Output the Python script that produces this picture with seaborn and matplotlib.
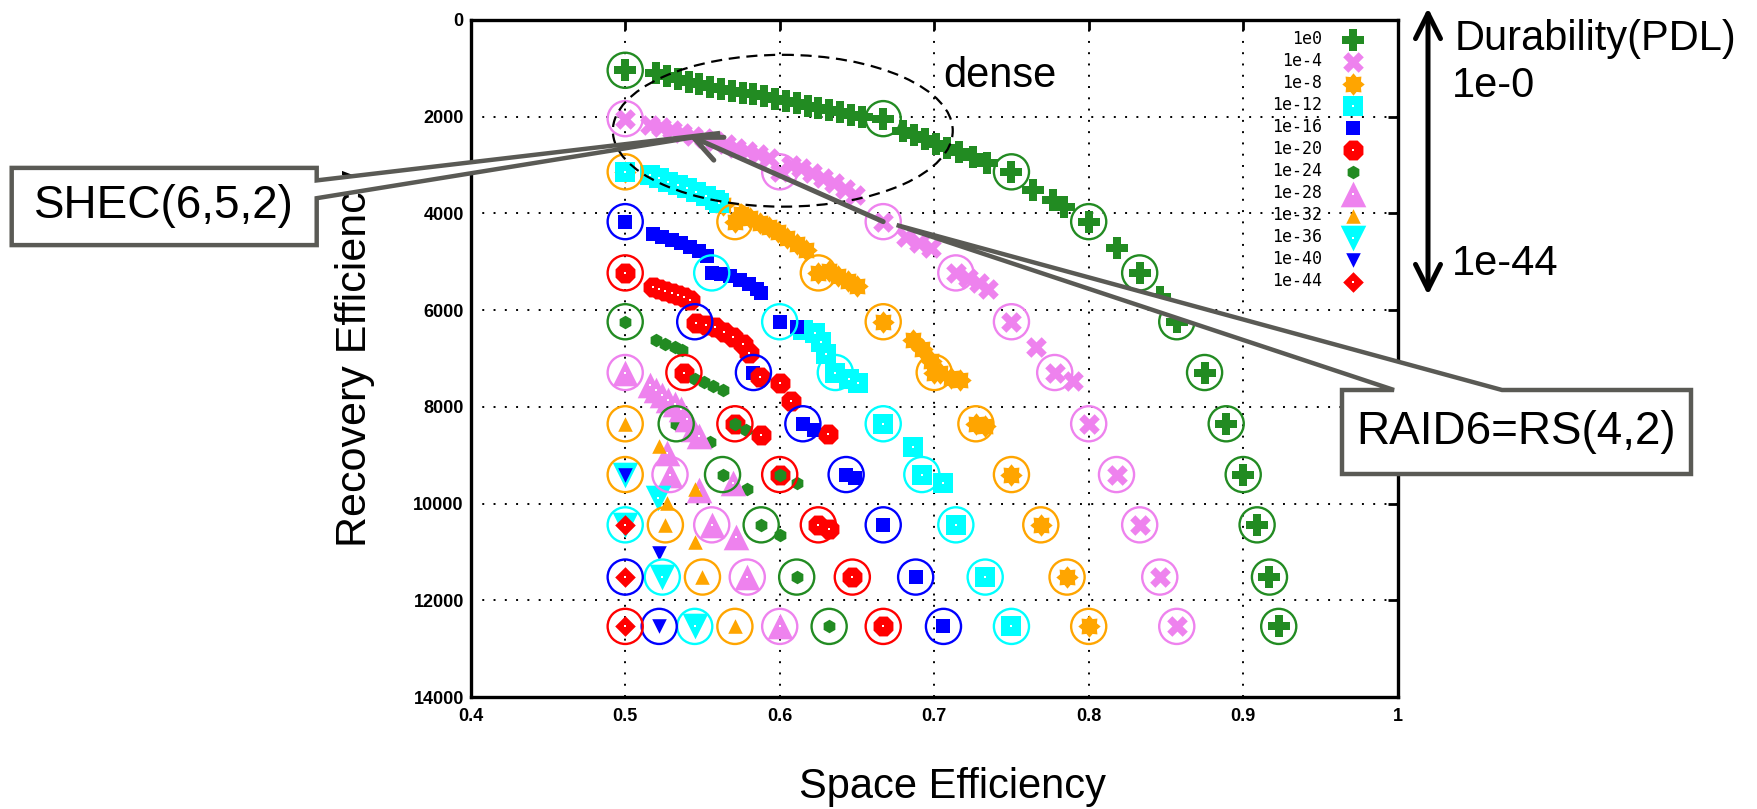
import numpy as np
import pandas as pd
import seaborn as sns
import matplotlib.pyplot as plt
from matplotlib.patches import Ellipse, Polygon, FancyArrowPatch
from matplotlib.transforms import IdentityTransform

# durability classes (legend order)
labels = ['1e0', '1e-4', '1e-8', '1e-12', '1e-16', '1e-20',
          '1e-24', '1e-28', '1e-32', '1e-36', '1e-40', '1e-44']

# SHEC points per class (x = space efficiency, y = recovery efficiency)
x_1e0 = [0.500, 0.520, 0.527, 0.534, 0.541, 0.548, 0.555, 0.562, 0.569, 0.576, 0.583, 0.590, 0.597, 0.604,
         0.611, 0.618, 0.625, 0.632, 0.639, 0.646, 0.653, 0.667, 0.680, 0.687, 0.694, 0.701, 0.708, 0.716,
         0.725, 0.734, 0.750, 0.764, 0.777, 0.784, 0.800, 0.818, 0.833, 0.846, 0.857, 0.875, 0.889, 0.900,
         0.909, 0.917, 0.923]
y_1e0 = [1040, 1090, 1160, 1220, 1280, 1330, 1380, 1420, 1460, 1500, 1540, 1580, 1625, 1670,
         1720, 1770, 1820, 1870, 1910, 1960, 2010, 2040, 2300, 2380, 2460, 2560, 2640, 2720,
         2830, 2960, 3140, 3520, 3720, 3860, 4170, 4720, 5230, 5720, 6240, 7290, 8350, 9400,
         10440, 11520, 12540]
x_1e4 = [0.500, 0.516, 0.523, 0.530, 0.537, 0.544, 0.551, 0.558, 0.565, 0.572, 0.579, 0.586, 0.593, 0.600,
         0.607, 0.614, 0.621, 0.628, 0.635, 0.642, 0.649, 0.667, 0.682, 0.690, 0.698, 0.714, 0.722, 0.729,
         0.735, 0.750, 0.766, 0.778, 0.790, 0.800, 0.818, 0.833, 0.846, 0.857]
y_1e4 = [2040, 2170, 2220, 2270, 2330, 2390, 2450, 2510, 2570, 2640, 2710, 2780, 2860, 3140,
         3000, 3070, 3160, 3270, 3380, 3500, 3610, 4170, 4480, 4620, 4720, 5230, 5330, 5440,
         5560, 6240, 6760, 7290, 7470, 8350, 9400, 10440, 11520, 12540]
x_1e8 = [0.500, 0.557, 0.563, 0.571, 0.575, 0.581, 0.587, 0.593, 0.599, 0.605, 0.611, 0.617, 0.625, 0.632,
         0.638, 0.644, 0.650, 0.667, 0.686, 0.692, 0.698, 0.700, 0.704, 0.711, 0.717, 0.727, 0.733, 0.750,
         0.769, 0.786, 0.800]
y_1e8 = [3140, 3720, 3820, 4170, 4010, 4100, 4200, 4290, 4380, 4500, 4640, 4760, 5230, 5200,
         5300, 5400, 5500, 6240, 6620, 6800, 7050, 7290, 7300, 7400, 7440, 8350, 8400, 9400,
         10440, 11520, 12540]
x_1e12 = [0.500, 0.516, 0.522, 0.528, 0.534, 0.540, 0.546, 0.552, 0.558, 0.561, 0.615, 0.623, 0.627, 0.630,
          0.636, 0.645, 0.651, 0.667, 0.686, 0.692, 0.706, 0.714, 0.733, 0.750]
y_1e12 = [3140, 3200, 3270, 3340, 3410, 3480, 3560, 3640, 3720, 3790, 6420, 6480, 6650, 6900,
          7290, 7420, 7500, 8350, 8820, 9400, 9580, 10440, 11520, 12540]
x_1e16 = [0.500, 0.518, 0.524, 0.530, 0.536, 0.542, 0.548, 0.553, 0.556, 0.562, 0.568, 0.574, 0.580, 0.585,
          0.588, 0.600, 0.611, 0.583, 0.615, 0.622, 0.643, 0.649, 0.667, 0.688, 0.706]
y_1e16 = [4170, 4420, 4480, 4540, 4610, 4690, 4780, 4890, 5230, 5250, 5300, 5380, 5460, 5560,
          5650, 6240, 6340, 7290, 8350, 8470, 9400, 9480, 10440, 11520, 12540]
x_1e20 = [0.500, 0.518, 0.522, 0.526, 0.530, 0.534, 0.538, 0.542, 0.546, 0.552, 0.558, 0.564, 0.570, 0.576,
          0.580, 0.538, 0.587, 0.600, 0.607, 0.571, 0.588, 0.600, 0.631, 0.625, 0.632, 0.647, 0.667]
y_1e20 = [5230, 5520, 5560, 5600, 5640, 5680, 5730, 5790, 6270, 6300, 6350, 6460, 6560, 6700,
          6880, 7290, 7380, 7500, 7880, 8350, 8580, 9400, 8560, 10440, 10530, 11520, 12540]
x_1e24 = [0.500, 0.520, 0.526, 0.532, 0.537, 0.545, 0.551, 0.557, 0.563, 0.533, 0.571, 0.578, 0.555, 0.563,
          0.579, 0.600, 0.611, 0.588, 0.600, 0.611, 0.632]
y_1e24 = [6240, 6620, 6690, 6760, 6830, 7420, 7490, 7570, 7650, 8350, 8350, 8470, 8720, 9400,
          9690, 9400, 9580, 10440, 10650, 11520, 12540]
x_1e28 = [0.500, 0.516, 0.520, 0.524, 0.528, 0.532, 0.536, 0.540, 0.544, 0.548, 0.527, 0.529, 0.548, 0.570,
          0.556, 0.572, 0.579, 0.600]
y_1e28 = [7290, 7550, 7650, 7750, 7850, 7950, 8050, 8250, 8450, 8600, 8960, 9400, 9720, 9580,
          10440, 10690, 11520, 12540]
x_1e32 = [0.500, 0.522, 0.545, 0.527, 0.526, 0.545, 0.550, 0.571]
y_1e32 = [8350, 8800, 9690, 9990, 10440, 10790, 11520, 12540]
x_1e36 = [0.500, 0.521, 0.500, 0.524, 0.545]
y_1e36 = [9400, 9880, 10440, 11520, 12540]
x_1e40 = [0.500, 0.522, 0.522]
y_1e40 = [9400, 11030, 12540]
x_1e44 = [0.500, 0.500, 0.500]
y_1e44 = [10440, 11520, 12540]

# RS(k,m) codes, circled, per class
rs_x_1e0 = [0.500, 0.667, 0.750, 0.800, 0.833, 0.857, 0.875, 0.889, 0.900, 0.909, 0.917, 0.923]
rs_y_1e0 = [1040, 2040, 3140, 4170, 5230, 6240, 7290, 8350, 9400, 10440, 11520, 12540]
rs_x_1e4 = [0.500, 0.600, 0.667, 0.714, 0.750, 0.778, 0.800, 0.818, 0.833, 0.846, 0.857]
rs_y_1e4 = [2040, 3140, 4170, 5230, 6240, 7290, 8350, 9400, 10440, 11520, 12540]
rs_x_1e8 = [0.500, 0.571, 0.625, 0.667, 0.700, 0.727, 0.750, 0.769, 0.786, 0.800]
rs_y_1e8 = [3140, 4170, 5230, 6240, 7290, 8350, 9400, 10440, 11520, 12540]
rs_x_1e12 = [0.556, 0.600, 0.636, 0.667, 0.692, 0.714, 0.733, 0.750]
rs_y_1e12 = [5230, 6240, 7290, 8350, 9400, 10440, 11520, 12540]
rs_x_1e16 = [0.500, 0.545, 0.583, 0.615, 0.643, 0.667, 0.688, 0.706]
rs_y_1e16 = [4170, 6240, 7290, 8350, 9400, 10440, 11520, 12540]
rs_x_1e20 = [0.500, 0.538, 0.571, 0.600, 0.625, 0.647, 0.667]
rs_y_1e20 = [5230, 7290, 8350, 9400, 10440, 11520, 12540]
rs_x_1e24 = [0.500, 0.533, 0.563, 0.588, 0.611, 0.632]
rs_y_1e24 = [6240, 8350, 9400, 10440, 11520, 12540]
rs_x_1e28 = [0.500, 0.529, 0.556, 0.579, 0.600]
rs_y_1e28 = [7290, 9400, 10440, 11520, 12540]
rs_x_1e32 = [0.500, 0.500, 0.526, 0.550, 0.571]
rs_y_1e32 = [8350, 9400, 10440, 11520, 12540]
rs_x_1e36 = [0.500, 0.524, 0.545]
rs_y_1e36 = [10440, 11520, 12540]
rs_x_1e40 = [0.500, 0.522]
rs_y_1e40 = [11520, 12540]
rs_x_1e44 = [0.500]
rs_y_1e44 = [12540]

# annotated points
shec_652 = (0.5406, 2378)   # SHEC(6,5,2)
raid6 = (0.667, 4170)       # RS(4,2)

pts = [(x_1e0, y_1e0), (x_1e4, y_1e4), (x_1e8, y_1e8), (x_1e12, y_1e12), (x_1e16, y_1e16), (x_1e20, y_1e20),
       (x_1e24, y_1e24), (x_1e28, y_1e28), (x_1e32, y_1e32), (x_1e36, y_1e36), (x_1e40, y_1e40), (x_1e44, y_1e44)]
rs = [(rs_x_1e0, rs_y_1e0), (rs_x_1e4, rs_y_1e4), (rs_x_1e8, rs_y_1e8), (rs_x_1e12, rs_y_1e12),
      (rs_x_1e16, rs_y_1e16), (rs_x_1e20, rs_y_1e20), (rs_x_1e24, rs_y_1e24), (rs_x_1e28, rs_y_1e28),
      (rs_x_1e32, rs_y_1e32), (rs_x_1e36, rs_y_1e36), (rs_x_1e40, rs_y_1e40), (rs_x_1e44, rs_y_1e44)]

# styles
ang = np.arange(16) * np.pi / 8
rad = np.where(np.arange(16) % 2 == 0, 1.0, 0.72)
blob = np.column_stack([rad * np.cos(ang), rad * np.sin(ang)])   # jagged gnuplot-like marker

colors = ['#228b22', '#ee82ee', '#ffa500', '#00ffff', '#0000ff', '#ff0000',
          '#228b22', '#ee82ee', '#ffa500', '#00ffff', '#0000ff', '#ff0000']
markers = ['P', 'X', blob, 's', 's', '8', 'h', '^', '^', 'v', 'v', 'D']
sizes = [230, 220, 260, 190, 110, 240, 95, 340, 110, 340, 110, 110]
dots = [False, False, False, True, False, True, False, True, False, True, False, True]
grey = '#5a5a55'

sns.set_style('white')
plt.rcParams['font.family'] = ['Liberation Sans', 'DejaVu Sans']
plt.rcParams['text.color'] = 'black'
plt.rcParams['axes.labelcolor'] = 'black'
plt.rcParams['xtick.color'] = 'black'
plt.rcParams['ytick.color'] = 'black'

W, H = 1758, 809
fig = plt.figure(figsize=(W / 100, H / 100), dpi=100)
ax = fig.add_axes([470.7 / W, 1 - 697 / H, 927 / W, 677 / H])

handles = []
for lab, (xs, ys), c, m, s, d in zip(labels, pts, colors, markers, sizes, dots):
    df = pd.DataFrame({'x': xs, 'y': ys})
    sns.scatterplot(data=df, x='x', y='y', marker=m, s=s, color=c, linewidth=0, ax=ax, zorder=3, legend=False)
    h = ax.collections[-1]
    if d:
        sns.scatterplot(data=df, x='x', y='y', marker='s', s=3, color='white', linewidth=0, ax=ax, zorder=3,
                        legend=False)
        h = (h, ax.collections[-1])
    handles.append(h)

for (xs, ys), c in zip(rs, colors):
    ax.scatter(xs, ys, marker='o', s=640, facecolors='none', edgecolors=c, linewidths=1.7, zorder=4)

ax.add_patch(Ellipse((0.602, 2290), 0.220, 3140, fill=False, ls=(0, (5, 3)), lw=1.6, ec='black', zorder=5))
ax.text(0.7057, 1392, 'dense', fontsize=30, va='baseline', ha='left')

ax.set_xlim(0.4, 1.0)
ax.set_ylim(14000, 0)
ax.set_xticks(np.arange(0.4, 1.01, 0.1))
ax.set_xticklabels(['0.4', '0.5', '0.6', '0.7', '0.8', '0.9', '1'])
ax.set_yticks(np.arange(0, 14001, 2000))
ax.grid(True, color='black', linestyle=(0, (1, 4.8)), linewidth=1.4)
ax.set_axisbelow(True)
for sp in ax.spines.values():
    sp.set_color('black')
    sp.set_linewidth(2.4)
ax.tick_params(direction='in', length=7, width=2, top=True, right=True, labelsize=13)
ax.tick_params(axis='y', pad=5)
ax.tick_params(axis='x', pad=8)
for t in ax.get_xticklabels() + ax.get_yticklabels():
    t.set_fontfamily('Liberation Sans')
    t.set_fontweight('bold')

ax.set_xlabel('Space Efficiency', fontsize=30)
ax.xaxis.set_label_coords(0.52, -0.104)
ax.set_ylabel('Recovery Efficiency', fontsize=31)
ax.yaxis.set_label_coords(-0.103, 0.5)

ax.legend(handles, labels, loc='upper right', bbox_to_anchor=(0.972, 0.995), frameon=False,
          markerfirst=False, prop={'family': 'DejaVu Sans Mono', 'size': 12}, labelspacing=0.24,
          handletextpad=1.2, handlelength=1.4, borderaxespad=0, scatterpoints=1)


def img(xp, yp):
    return (xp, H - yp)


# SHEC(6,5,2) callout
tip1 = tuple(ax.transData.transform((0.5614, 2337)))
fig.add_artist(Polygon([img(11.7, 167.9), img(316.7, 167.9), img(316.7, 180.4), tip1, img(316.7, 198.2),
                        img(316.7, 245.1), img(11.7, 245.1)], closed=True, fc='white', ec=grey, lw=3.2,
                       joinstyle='miter', transform=IdentityTransform(), zorder=5))
fig.text(164 / W, 1 - 206.5 / H, 'SHEC(6,5,2)', fontsize=33, ha='center', va='center', zorder=6)

# RAID6 callout
tip2 = tuple(ax.transData.transform((0.6757, 4240)))
fig.add_artist(Polygon([img(1342, 390), img(1394, 390), tip2, img(1502, 390), img(1691, 390),
                        img(1691, 474), img(1342, 474)], closed=True, fc='white', ec=grey, lw=3.2,
                       joinstyle='miter', transform=IdentityTransform(), zorder=5))
fig.text(1516.5 / W, 1 - 432 / H, 'RAID6=RS(4,2)', fontsize=33, ha='center', va='center', zorder=6)

# arrow from RS(4,2) to SHEC(6,5,2)
fig.add_artist(FancyArrowPatch(tuple(ax.transData.transform(raid6)), tuple(ax.transData.transform(shec_652)),
                               arrowstyle='->,head_length=1.0,head_width=0.45', mutation_scale=20, lw=3.6,
                               color=grey, shrinkA=0, shrinkB=0, transform=IdentityTransform(), zorder=7))

# durability axis
fig.add_artist(FancyArrowPatch(img(1428, 295), img(1428, 8), arrowstyle='<->,head_length=0.9,head_width=0.45',
                               mutation_scale=20, lw=3.6, color='black', shrinkA=0, shrinkB=0,
                               transform=IdentityTransform(), zorder=7))
fig.text(1455 / W, 1 - 50 / H, 'Durability(PDL)', fontsize=30, ha='left', va='baseline')
fig.text(1451.7 / W, 1 - 96.7 / H, '1e-0', fontsize=30, ha='left', va='baseline')
fig.text(1451.7 / W, 1 - 275 / H, '1e-44', fontsize=30, ha='left', va='baseline')

fig.savefig('out.png', dpi=100)
